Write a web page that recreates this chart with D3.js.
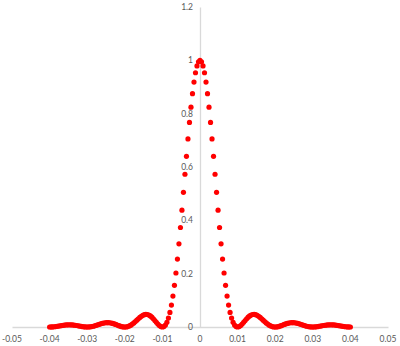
<!DOCTYPE html>
<html><head><meta charset="utf-8">
<script src="https://cdn.jsdelivr.net/npm/d3@7"></script>
<style>html,body{margin:0;padding:0;background:#fff;}svg{display:block;}</style>
</head><body>
<svg id="chart" width="400" height="346"></svg>
<script>
const xTicks = [-0.05,-0.04,-0.03,-0.02,-0.01,0,0.01,0.02,0.03,0.04,0.05];
const xTickLabels = ["-0.05","-0.04","-0.03","-0.02","-0.01","0","0.01","0.02","0.03","0.04","0.05"];
const yTicks = [0,0.2,0.4,0.6,0.8,1,1.2];
const yTickLabels = ["0","0.2","0.4","0.6","0.8","1","1.2"];

const xValues = [
-0.04,-0.0396,-0.0392,-0.0388,-0.0384,-0.038,-0.0376,-0.0372,-0.0368,-0.0364,
-0.036,-0.0356,-0.0352,-0.0348,-0.0344,-0.034,-0.0336,-0.0332,-0.0328,-0.0324,
-0.032,-0.0316,-0.0312,-0.0308,-0.0304,-0.03,-0.0296,-0.0292,-0.0288,-0.0284,
-0.028,-0.0276,-0.0272,-0.0268,-0.0264,-0.026,-0.0256,-0.0252,-0.0248,-0.0244,
-0.024,-0.0236,-0.0232,-0.0228,-0.0224,-0.022,-0.0216,-0.0212,-0.0208,-0.0204,
-0.02,-0.0196,-0.0192,-0.0188,-0.0184,-0.018,-0.0176,-0.0172,-0.0168,-0.0164,
-0.016,-0.0156,-0.0152,-0.0148,-0.0144,-0.014,-0.0136,-0.0132,-0.0128,-0.0124,
-0.012,-0.0116,-0.0112,-0.0108,-0.0104,-0.01,-0.0096,-0.0092,-0.0088,-0.0084,
-0.008,-0.0076,-0.0072,-0.0068,-0.0064,-0.006,-0.0056,-0.0052,-0.0048,-0.0044,
-0.004,-0.0036,-0.0032,-0.0028,-0.0024,-0.002,-0.0016,-0.0012,-0.0008,-0.0004,
0,
0.0004,0.0008,0.0012,0.0016,0.002,0.0024,0.0028,0.0032,0.0036,0.004,
0.0044,0.0048,0.0052,0.0056,0.006,0.0064,0.0068,0.0072,0.0076,0.008,
0.0084,0.0088,0.0092,0.0096,0.01,0.0104,0.0108,0.0112,0.0116,0.012,
0.0124,0.0128,0.0132,0.0136,0.014,0.0144,0.0148,0.0152,0.0156,0.016,
0.0164,0.0168,0.0172,0.0176,0.018,0.0184,0.0188,0.0192,0.0196,0.02,
0.0204,0.0208,0.0212,0.0216,0.022,0.0224,0.0228,0.0232,0.0236,0.024,
0.0244,0.0248,0.0252,0.0256,0.026,0.0264,0.0268,0.0272,0.0276,0.028,
0.0284,0.0288,0.0292,0.0296,0.03,0.0304,0.0308,0.0312,0.0316,0.032,
0.0324,0.0328,0.0332,0.0336,0.034,0.0344,0.0348,0.0352,0.0356,0.036,
0.0364,0.0368,0.0372,0.0376,0.038,0.0384,0.0388,0.0392,0.0396,0.04
];

const yValues = [
0,0.0001,0.0004,0.0009,0.0016,0.0024,0.0034,0.0043,0.0053,0.0063,
0.0071,0.0077,0.0081,0.0083,0.0083,0.0079,0.0073,0.0066,0.0056,0.0045,
0.0034,0.0024,0.0014,0.0007,0.0002,0,0.0002,0.0007,0.0017,0.0029,
0.0045,0.0062,0.0081,0.0101,0.0119,0.0136,0.0149,0.0159,0.0164,0.0164,
0.0159,0.0149,0.0134,0.0116,0.0095,0.0072,0.005,0.0031,0.0014,0.0004,
0,0.0004,0.0017,0.0039,0.0069,0.0108,0.0153,0.0203,0.0256,0.0308,
0.0358,0.0402,0.0437,0.0461,0.0471,0.0468,0.0448,0.0415,0.0367,0.0309,
0.0243,0.0175,0.0109,0.0054,0.0015,0,0.0017,0.0074,0.0177,0.0333,
0.0547,0.0822,0.116,0.1562,0.2025,0.2546,0.3118,0.3732,0.438,0.505,
0.5728,0.6401,0.7054,0.7673,0.8243,0.8751,0.9186,0.9535,0.9791,0.9947,
1,
0.9947,0.9791,0.9535,0.9186,0.8751,0.8243,0.7673,0.7054,0.6401,0.5728,
0.505,0.438,0.3732,0.3118,0.2546,0.2025,0.1562,0.116,0.0822,0.0547,
0.0333,0.0177,0.0074,0.0017,0,0.0015,0.0054,0.0109,0.0175,0.0243,
0.0309,0.0367,0.0415,0.0448,0.0468,0.0471,0.0461,0.0437,0.0402,0.0358,
0.0308,0.0256,0.0203,0.0153,0.0108,0.0069,0.0039,0.0017,0.0004,0,
0.0004,0.0014,0.0031,0.005,0.0072,0.0095,0.0116,0.0134,0.0149,0.0159,
0.0164,0.0164,0.0159,0.0149,0.0136,0.0119,0.0101,0.0081,0.0062,0.0045,
0.0029,0.0017,0.0007,0.0002,0,0.0002,0.0007,0.0014,0.0024,0.0034,
0.0045,0.0056,0.0066,0.0073,0.0079,0.0083,0.0083,0.0081,0.0077,0.0071,
0.0063,0.0053,0.0043,0.0034,0.0024,0.0016,0.0009,0.0004,0.0001,0
];

const svg = d3.select("#chart");
const x = d3.scaleLinear().domain([-0.05, 0.05]).range([12, 388]);
const y = d3.scaleLinear().domain([0, 1.2]).range([327, 7]);
const gridColor = "#d9d9d9";
const textColor = "#595959";
const font = "Lato, 'Open Sans', sans-serif";

// x axis line at y=0
const xAxis = d3.axisBottom(x).tickValues([]).tickSizeOuter(0);
const gx = svg.append("g").attr("transform", `translate(0,${y(0)})`).call(xAxis);
gx.select(".domain").attr("stroke", gridColor).attr("stroke-width", 1.3);

// y axis line at x=0
const yAxis = d3.axisLeft(y).tickValues([]).tickSizeOuter(0);
const gy = svg.append("g").attr("transform", `translate(${x(0)},0)`).call(yAxis);
gy.select(".domain").attr("stroke", gridColor).attr("stroke-width", 1.3);

// x tick labels
svg.append("g").selectAll("text").data(xTicks).join("text")
  .attr("x", d => x(d)).attr("y", y(0) + 15)
  .attr("text-anchor", "middle")
  .attr("font-family", font).attr("font-size", 8.5).attr("fill", textColor)
  .text((d, i) => xTickLabels[i]);

// y tick labels
svg.append("g").selectAll("text").data(yTicks).join("text")
  .attr("x", x(0) - 7).attr("y", d => y(d) + 3)
  .attr("text-anchor", "end")
  .attr("font-family", font).attr("font-size", 8.5).attr("fill", textColor)
  .text((d, i) => yTickLabels[i]);

// points
svg.append("g").selectAll("circle").data(xValues).join("circle")
  .attr("cx", d => x(d)).attr("cy", (d, i) => y(yValues[i]))
  .attr("r", 2.6).attr("fill", "#ff0000");
</script>
</body></html>
